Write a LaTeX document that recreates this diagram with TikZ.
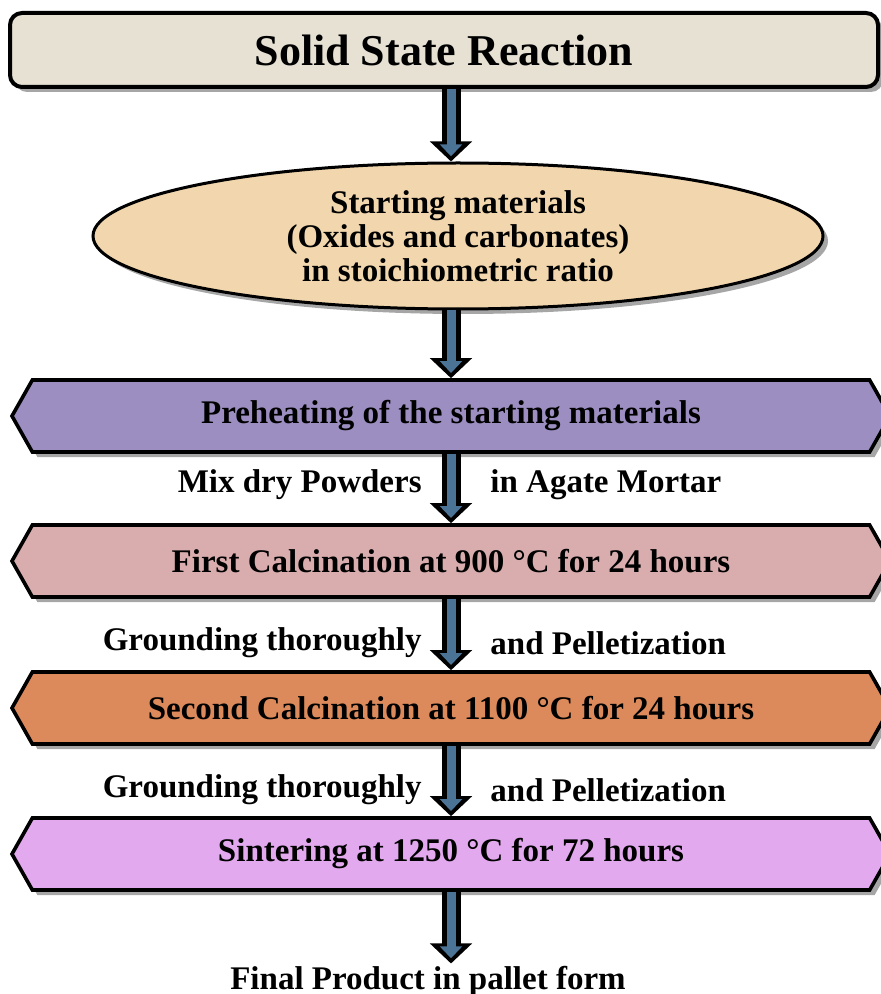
\documentclass[tikz,border=0pt]{standalone}
\usepackage{fontspec}
\setmainfont{Liberation Serif}
\usepackage{xcolor}
\usepackage{tikz}
\usetikzlibrary{shapes.geometric,shapes.symbols,arrows.meta,shadows,positioning,calc}

\definecolor{titlefill}{HTML}{E6E1D3}
\definecolor{startfill}{HTML}{F2D7AE}
\definecolor{preheatfill}{HTML}{9C8EC1}
\definecolor{firstfill}{HTML}{D9ADAD}
\definecolor{secondfill}{HTML}{DC8A5C}
\definecolor{sinterfill}{HTML}{E3A9EE}
\definecolor{shaft}{HTML}{4A7396}

\tikzset{
  boxshadow/.style={drop shadow={shadow xshift=2.5pt, shadow yshift=-2.5pt, fill=black, opacity=0.35}},
  titlebox/.style={draw, line width=2pt, rounded corners=6pt, fill=titlefill, boxshadow,
    minimum width=434pt, minimum height=37pt, font=\bfseries\fontsize{22}{24}\selectfont},
  startell/.style={draw, ellipse, line width=1.5pt, fill=startfill, boxshadow, inner sep=0pt,
    minimum width=365pt, minimum height=73pt, align=center, font=\bfseries\fontsize{16.5}{17}\selectfont},
  stepsig/.style={draw, signal, signal to=west and east, signal pointer angle=121, line width=1.8pt,
    boxshadow, minimum width=439pt, minimum height=36pt, inner sep=0pt,
    font=\bfseries\fontsize{16.5}{18}\selectfont},
  steplabel/.style={inner sep=1pt, font=\bfseries\fontsize{16.5}{18}\selectfont},
  blockarrow/.style={draw=shaft, line width=4.5pt, shorten >=2.6pt, -{Triangle[width=11pt,length=6pt]},
    preaction={draw=black, line width=9.5pt, shorten >=0pt, -{Triangle[width=20.5pt,length=10pt]}}}
}

\begin{document}
\begin{tikzpicture}[x=0.5pt, y=-0.5pt]
\useasboundingbox (0,0) rectangle (881,994);

% Heading and starting materials
\node[titlebox] (title) at (444,50) {Solid State Reaction};
\node[startell] (start) at (458,236) {Starting materials\\(Oxides and carbonates)\\in stoichiometric ratio};

% Process steps
\foreach \name/\col/\y/\txt in {preheat/preheatfill/416/Preheating of the starting materials,
    first/firstfill/561/First Calcination at 900 °C for 24 hours,
    second/secondfill/708/Second Calcination at 1100 °C for 24 hours,
    sinter/sinterfill/854/Sintering at 1250 °C for 72 hours} {
    \node[stepsig, fill=\col] (\name) at (451,\y) {\txt};
}
\node[steplabel] (final) at (428,981) {Final Product in pallet form};

% Arrows between steps
\foreach \a/\b in {title/start, start/preheat, preheat/first, first/second, second/sinter} {
    \draw[blockarrow] (\a.south -| preheat.center) -- (\b.north -| preheat.center);
}
\draw[blockarrow] (sinter.south) -- (final.north -| sinter.center);

% Side notes along the arrows
\foreach \y/\left/\right in {485/Mix dry Powders/in Agate Mortar,
    643/Grounding thoroughly/and Pelletization,
    790/Grounding thoroughly/and Pelletization} {
    \node[steplabel, anchor=east] at (424,\y) {\left};
    \node[steplabel, anchor=west] at (488,\y) {\right};
}
\end{tikzpicture}
\end{document}
